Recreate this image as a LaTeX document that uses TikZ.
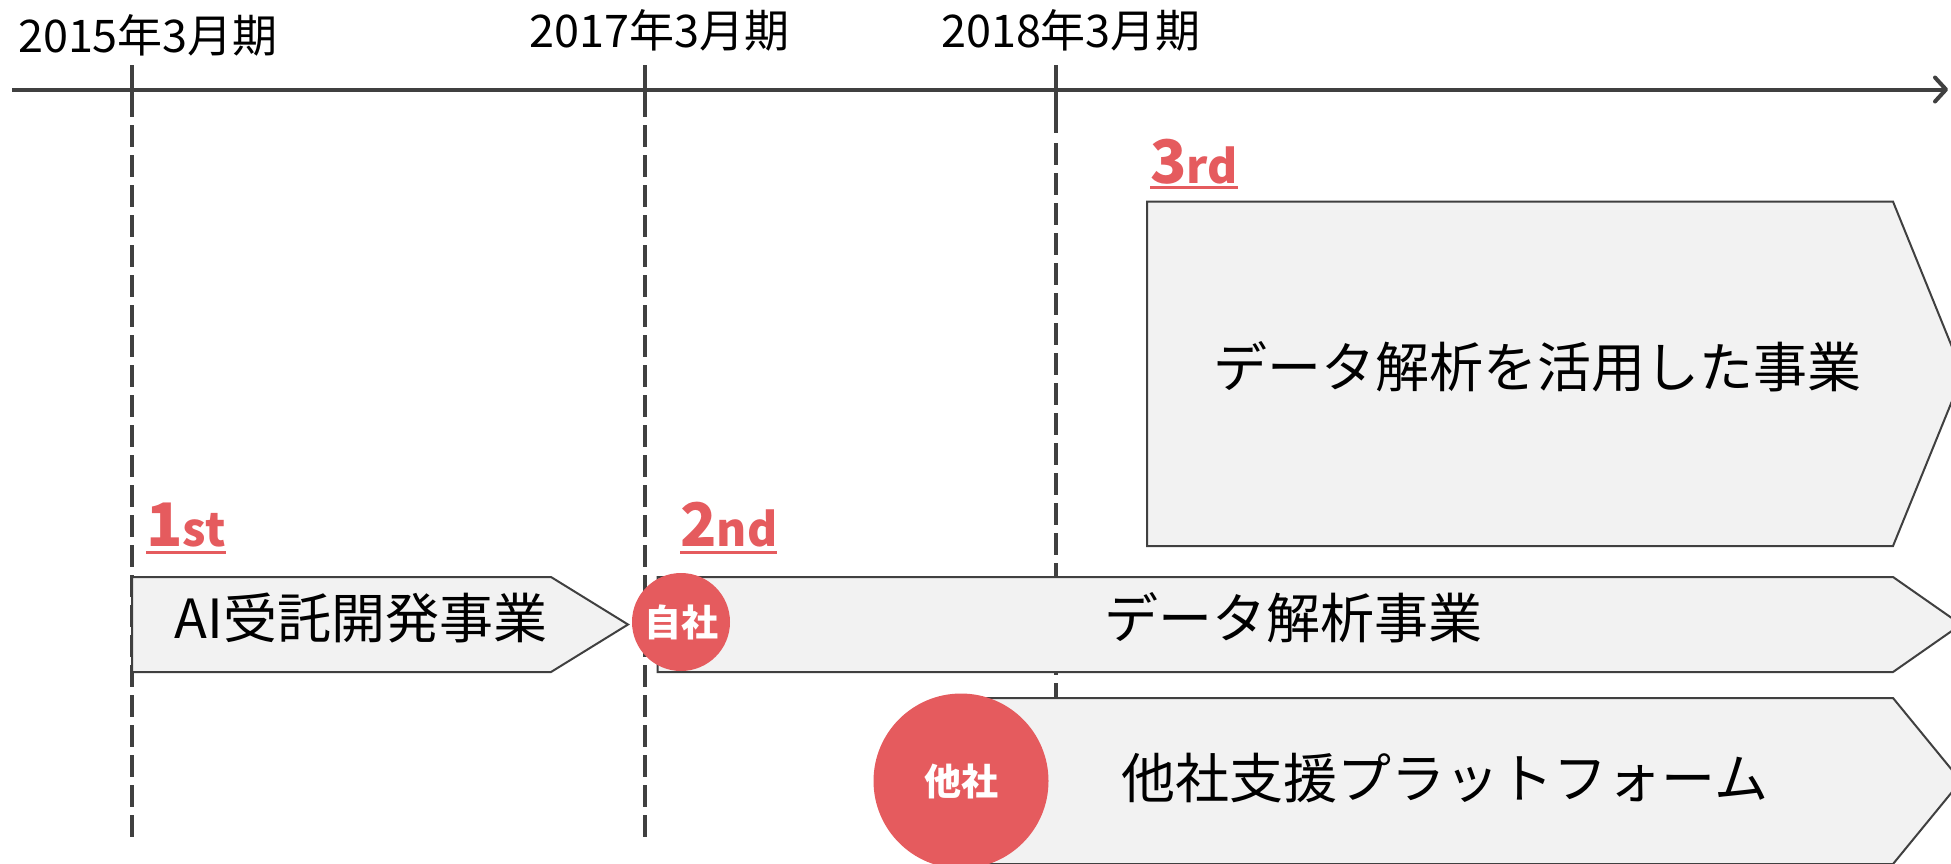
\documentclass[tikz,border=0pt]{standalone}
\usepackage{fontspec}
\setmainfont{Noto Sans CJK JP}
\usetikzlibrary{arrows.meta}
\definecolor{linegray}{RGB}{64,64,64}
\definecolor{boxfill}{RGB}{242,242,242}
\definecolor{accent}{RGB}{229,91,94}
\begin{document}
\begin{tikzpicture}[x=1pt,y=-1pt,
  axisline/.style={draw=linegray, line width=4pt},
  tickline/.style={draw=linegray, line width=4pt},
  vline/.style={draw=linegray, line width=4pt, dash pattern=on 21.7pt off 8.3pt},
  phase/.style={draw=linegray, line width=2pt, fill=boxfill, line join=miter},
  datelbl/.style={font=\fontsize{45}{45}\selectfont, text=black, inner sep=0pt},
  boxtxt/.style={font=\fontsize{54}{54}\selectfont, text=black, inner sep=0pt},
  badge/.style={circle, fill=accent, text=white, font=\fontsize{37}{37}\selectfont\bfseries, inner sep=0pt},
  ord/.style={text=accent, inner sep=0pt, anchor=base west, font=\bfseries},
  ordline/.style={draw=accent, line width=3pt}
]
\useasboundingbox (0,0) rectangle (1951,863);
\clip (0,0) rectangle (1951,863);

% time axis
\coordinate (axL) at (12,89.5);
\coordinate (axR) at (1948,89.5);
\draw[axisline, -{Straight Barb[length=11pt,width=24pt,round]}] (axL) -- (axR);

% period markers
\foreach \n/\x/\s/\d in {a/132/117/125, b/645/117/125, c/1056/133/143} {
  \coordinate (\n top) at (\x,65);
  \coordinate (\n mid) at (\x,\s);
  \coordinate (\n dash) at (\x,\d);
  \coordinate (\n bot) at (\x,841);
  \draw[tickline] (\n top) -- (\n mid);
  \draw[vline] (\n dash) -- (\n bot);
}

% date labels
\node[datelbl] (d1) at (148,35) {2015年3月期};
\node[datelbl] (d2) at (659.5,30) {2017年3月期};
\node[datelbl] (d3) at (1071,30) {2018年3月期};

% phase shapes
\draw[phase] (1147,201.6) -- (1893,201.6) -- (1963,374) -- (1893,546) -- (1147,546) -- cycle;
\draw[phase] (132,577) -- (551,577) -- (628,624.5) -- (551,672) -- (132,672) -- cycle;
\draw[phase] (657.5,577) -- (1893,577) -- (1961,624.5) -- (1893,672) -- (657.5,672) -- cycle;
\draw[phase] (961,698) -- (1893,698) -- (1961,781) -- (1893,864) -- (961,864) -- cycle;

% phase texts
\node[boxtxt] (t3) at (1537,367) {データ解析を活用した事業};
\node[boxtxt] (t1) at (361,618) {AI受託開発事業};
\node[boxtxt] (t2) at (1293,618) {データ解析事業};
\node[boxtxt] (t4) at (1445,778) {他社支援プラットフォーム};

% badges
\node[badge, minimum size=98pt] (own) at (681,622) {自社};
\node[badge, minimum size=175pt] (other) at (961,781) {他社};

% ordinals
\node[ord] (o1) at (146,546.7) {{\fontsize{60}{60}\selectfont 1}{\fontsize{46}{46}\selectfont st}};
\draw[ordline] ([yshift=-5.5pt]o1.base west) -- ([yshift=-5.5pt]o1.base east);
\node[ord] (o2) at (680,546.7) {{\fontsize{60}{60}\selectfont 2}{\fontsize{46}{46}\selectfont nd}};
\draw[ordline] ([yshift=-5.5pt]o2.base west) -- ([yshift=-5.5pt]o2.base east);
\node[ord] (o3) at (1150,183) {{\fontsize{60}{60}\selectfont 3}{\fontsize{46}{46}\selectfont rd}};
\draw[ordline] ([yshift=-4pt]o3.base west) -- ([yshift=-4pt]o3.base east);
\end{tikzpicture}
\end{document}
